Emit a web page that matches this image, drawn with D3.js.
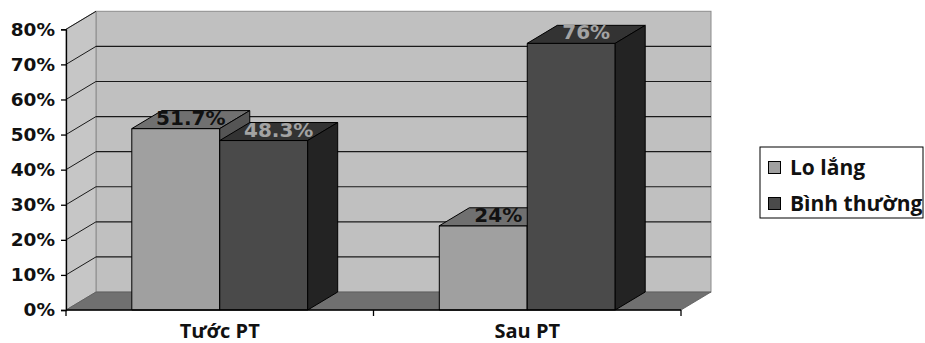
<!DOCTYPE html>
<html>
<head>
<meta charset="utf-8">
<script src="https://cdn.jsdelivr.net/npm/d3@7/dist/d3.min.js"></script>
<style>
  html, body { margin: 0; padding: 0; background: #fff; }
  svg { display: block; }
</style>
</head>
<body>
<svg id="chart" width="925" height="343"></svg>
<script>
// Chart data
const categories = ["Tước PT", "Sau PT"];
const seriesNames = ["Lo lắng", "Bình thường"];
const loLang = [51.7, 24];
const binhThuong = [48.3, 76];
const yTicks = [0, 10, 20, 30, 40, 50, 60, 70, 80];

const series = [loLang, binhThuong];

// Shading for each series: front, top, side faces; label colour
const faceColors = [
  { front: "#a0a0a0", top: "#707070", side: "#555555", label: "#111111" },
  { front: "#4a4a4a", top: "#333333", side: "#232323", label: "#a3a3a3" }
];

const svg = d3.select("#chart");

// Front plane geometry and depth offset for the 3D look
const plot = { left: 66, right: 681, top: 29.3, bottom: 310 };
const depth = { dx: 30, dy: -18 };

const y = d3.scaleLinear().domain([0, 80]).range([plot.bottom, plot.top]);
const x0 = d3.scaleBand().domain(categories)
  .range([plot.left, plot.right])
  .paddingInner(0.428).paddingOuter(0.214);
const x1 = d3.scaleBand().domain(d3.range(seriesNames.length))
  .range([0, x0.bandwidth()]);

const pts = arr => arr.map(p => p.join(",")).join(" ");

// Back wall
svg.append("rect")
  .attr("x", plot.left + depth.dx).attr("y", plot.top + depth.dy)
  .attr("width", plot.right - plot.left).attr("height", plot.bottom - plot.top)
  .attr("fill", "#c0c0c0").attr("stroke", "#8c8c8c").attr("stroke-width", 1);

// Left side wall
svg.append("polygon")
  .attr("points", pts([
    [plot.left, plot.top], [plot.left + depth.dx, plot.top + depth.dy],
    [plot.left + depth.dx, plot.bottom + depth.dy], [plot.left, plot.bottom]
  ]))
  .attr("fill", "#c6c6c6").attr("stroke", "#8c8c8c").attr("stroke-width", 1);

// Gridlines on the back wall and the side wall
const grid = svg.append("g");
yTicks.filter(t => t > 0 && t < 80).forEach(t => {
  grid.append("line")
    .attr("x1", plot.left + depth.dx).attr("x2", plot.right + depth.dx)
    .attr("y1", y(t) + depth.dy).attr("y2", y(t) + depth.dy)
    .attr("stroke", "#1a1a1a").attr("stroke-width", 1.2);
});
yTicks.filter(t => t > 0).forEach(t => {
  grid.append("line")
    .attr("x1", plot.left).attr("x2", plot.left + depth.dx)
    .attr("y1", y(t)).attr("y2", y(t) + depth.dy)
    .attr("stroke", "#1a1a1a").attr("stroke-width", 1);
});

// Floor
svg.append("polygon")
  .attr("points", pts([
    [plot.left, plot.bottom], [plot.right, plot.bottom],
    [plot.right + depth.dx, plot.bottom + depth.dy], [plot.left + depth.dx, plot.bottom + depth.dy]
  ]))
  .attr("fill", "#707070").attr("stroke", "#5a5a5a").attr("stroke-width", 0.8);

// 3D bars: front, top and side faces
const bars = svg.append("g");
const labels = [];
categories.forEach((cat, ci) => {
  series.forEach((vals, si) => {
    const v = vals[ci];
    const xl = x0(cat) + x1(si);
    const xr = xl + x1.bandwidth();
    const yt = y(v), yb = y(0);
    const c = faceColors[si];
    const g = bars.append("g").attr("stroke", "#000").attr("stroke-width", 1).attr("stroke-linejoin", "round");
    g.append("polygon").attr("fill", c.front)
      .attr("points", pts([[xl, yt], [xr, yt], [xr, yb], [xl, yb]]));
    g.append("polygon").attr("fill", c.top)
      .attr("points", pts([[xl, yt], [xr, yt], [xr + depth.dx, yt + depth.dy], [xl + depth.dx, yt + depth.dy]]));
    g.append("polygon").attr("fill", c.side)
      .attr("points", pts([[xr, yt], [xr + depth.dx, yt + depth.dy], [xr + depth.dx, yb + depth.dy], [xr, yb]]));
    labels.push({
      text: v + "%",
      x: (xl + xr) / 2 + depth.dx / 2,
      y: yt + depth.dy / 2 - 2,
      color: c.label
    });
  });
});

// Value labels on the top faces
svg.append("g").selectAll("text").data(labels).join("text")
  .attr("x", d => d.x).attr("y", d => d.y)
  .attr("text-anchor", "middle").attr("dominant-baseline", "central")
  .attr("font-family", "DejaVu Sans, Verdana, sans-serif")
  .attr("font-weight", "bold").attr("font-size", 20)
  .attr("fill", d => d.color)
  .text(d => d.text);

// Y axis
const yAxis = d3.axisLeft(y).tickValues(yTicks).tickSize(5).tickPadding(6)
  .tickFormat(d => d + "%");
const gy = svg.append("g").attr("transform", `translate(${plot.left},0)`).call(yAxis);
gy.select(".domain").attr("stroke", "#000").attr("stroke-width", 1.3);
gy.selectAll(".tick line").attr("stroke", "#000").attr("stroke-width", 1.3);
gy.selectAll(".tick text")
  .attr("font-family", "DejaVu Sans, Verdana, sans-serif")
  .attr("font-weight", "bold").attr("font-size", 18.5).attr("fill", "#111");

// X axis with ticks on category boundaries
const gx = svg.append("g").attr("transform", `translate(0,${plot.bottom})`);
gx.append("line").attr("x1", plot.left).attr("x2", plot.right)
  .attr("stroke", "#000").attr("stroke-width", 1.3);
const bounds = [plot.left, ...categories.slice(1).map(c => x0(c) - x0.step() * x0.paddingInner() / 2), plot.right];
gx.selectAll("line.tk").data(bounds).join("line").attr("class", "tk")
  .attr("x1", d => d).attr("x2", d => d).attr("y1", 0).attr("y2", 6)
  .attr("stroke", "#000").attr("stroke-width", 1.3);
gx.selectAll("text").data(categories).join("text")
  .attr("x", d => x0(d) + x0.bandwidth() / 2).attr("y", 28)
  .attr("text-anchor", "middle")
  .attr("font-family", "Open Sans, sans-serif").attr("font-weight", "bold")
  .attr("font-size", 20).attr("fill", "#111")
  .text(d => d);

// Legend
const lg = svg.append("g").attr("transform", "translate(760,147)");
lg.append("rect").attr("width", 163).attr("height", 71)
  .attr("fill", "#fff").attr("stroke", "#000").attr("stroke-width", 1);
seriesNames.forEach((name, i) => {
  const row = lg.append("g").attr("transform", `translate(0,${14 + i * 36})`);
  row.append("rect").attr("x", 8.5).attr("y", 0.5).attr("width", 12).attr("height", 12)
    .attr("fill", faceColors[i].front).attr("stroke", "#000").attr("stroke-width", 1);
  row.append("text").attr("x", 30).attr("y", 14)
    .attr("font-family", "Open Sans, sans-serif").attr("font-weight", "bold")
    .attr("font-size", 21).attr("fill", "#111")
    .text(name);
});
</script>
</body>
</html>
